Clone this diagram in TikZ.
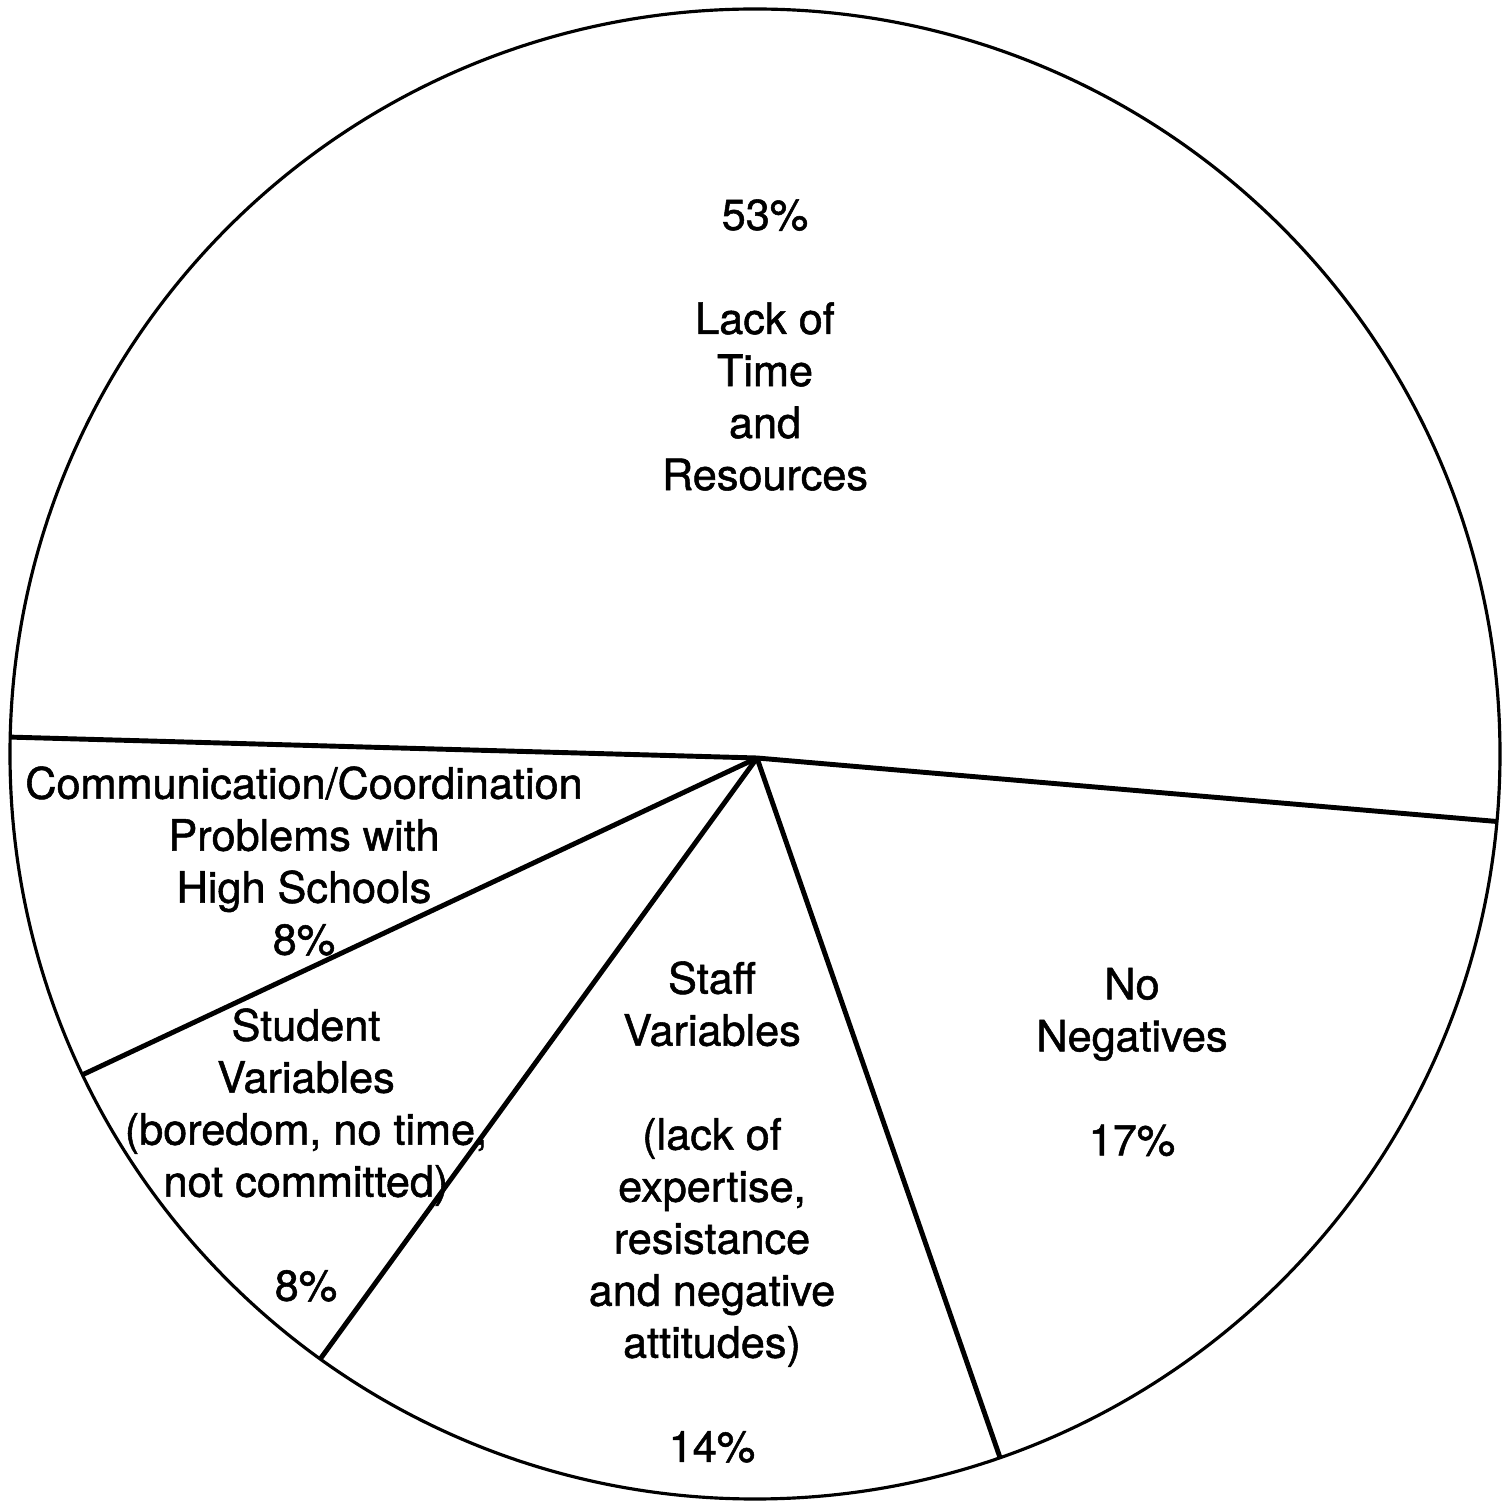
\documentclass[tikz,border=0pt]{standalone}
\usepackage{fontspec}
\setmainfont{TeX Gyre Heros}[FakeBold=1.2]
\usetikzlibrary{positioning,calc}

\begin{document}
\begin{tikzpicture}
\tikzset{
	rim/.style={line width=0.9pt},
	slice/.style={line width=1.4pt},
	lbl/.style={align=center,inner sep=0pt,font=\fontsize{12.3}{14.8}\selectfont}
}
\useasboundingbox (0,0) rectangle (15.12,15.06);

\coordinate(M) at (7.55,7.52);
\coordinate(O) at (7.57,7.48);

\draw[rim](M)circle[radius=7.45];

\foreach \n/\a in {A/178.7,B/-5.2,C/205.5,D/234.3,E/289.2}{
	\coordinate(\n) at ($(M)+(\a:7.45)$);
	\draw[slice](O)--(\n);
}

\node[lbl](time) at (7.65,11.61) {53\%\\[14.8pt]Lack of\\Time\\and\\Resources};
\node[lbl](comm) at (3.04,6.45) {Communication/Coordination\\Problems with\\High Schools\\8\%};
\node[lbl](student) at (3.06,3.51) {Student\\Variables\\(boredom, no time,\\not committed)\\[14.8pt]8\%};
\node[lbl](staff) at (7.12,2.94) {Staff\\Variables\\[14.8pt](lack of\\expertise,\\resistance\\and negative\\attitudes)\\[14.8pt]14\%};
\node[lbl](none) at (11.32,4.44) {No\\Negatives\\[14.8pt]17\%};

\end{tikzpicture}
\end{document}
